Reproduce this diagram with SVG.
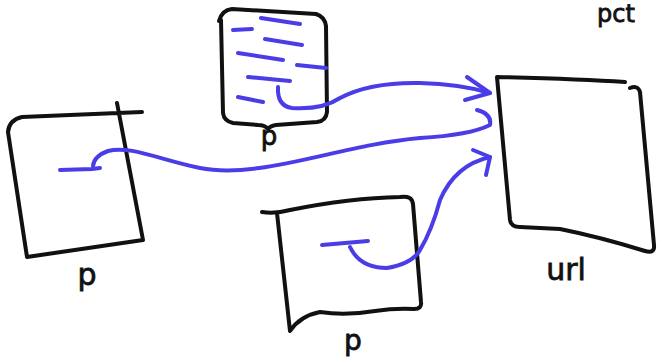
<svg xmlns="http://www.w3.org/2000/svg" width="661" height="364" viewBox="0 0 661 364">
<style>
.ink{fill:none;stroke:#111;stroke-width:4;stroke-linecap:round;stroke-linejoin:round}
.blue{fill:none;stroke:#4a3de8;stroke-width:4;stroke-linecap:round;stroke-linejoin:round}
.lbl{font-family:"DejaVu Sans",sans-serif;fill:#111;stroke:#111;stroke-width:0.8;text-anchor:middle}
</style>
<rect width="661" height="364" fill="#fff"/>
<g id="doc-top">
<path class="ink" d="M219,21 Q222,10 232,9 L316,14 Q325,17 326,26 L327,112 Q326,121 317,122 L276,125 Q270,126 268,129 Q265,125 258,125 L233,123 Q224,121 223,113 L221,20"/>
<path class="blue" d="M261,18 L300,24 M233,30 L252,29 M265,39 L302,45 M238,53 L283,60 M297,65 L326,68 M248,77 L290,81 M238,97 L263,102"/>
<text class="lbl" x="269" y="145" font-size="26">p</text>
</g>
<g id="doc-left">
<path class="ink" d="M142,112 L22,117 Q9,120 8,132 L27,257 L143,240 L117,103"/>
<text class="lbl" x="87" y="285" font-size="30">p</text>
</g>
<g id="doc-bottom">
<path class="ink" d="M262,212 Q275,214 290,210 Q350,198 400,197 Q412,195 413,204 L421,302 Q422,309 414,309 Q395,308 375,311 Q345,316 320,312 Q300,316 290,331 L277,213"/>
<text class="lbl" x="353" y="350" font-size="28">p</text>
</g>
<g id="doc-url">
<path class="ink" d="M625,82 Q580,79 497,77 L510,220 Q511,227 520,227 L560,229 Q600,237 645,251 Q655,254 654,245 L640,92 Q638,85 630,88"/>
<text class="lbl" x="566" y="280" font-size="30">url</text>
</g>
<text class="lbl" x="616" y="22" font-size="24">pct</text>
<g id="connectors">
<path class="blue" d="M278,87 Q277,106 292,108 Q322,110 340,98 Q370,82 420,83 Q460,84 490,93"/>
<path class="blue" d="M467,77 L490,93 L465,100"/>
<path class="blue" d="M477,110 Q492,114 490,125 Q470,135 420,138 C340,145 260,180 200,168 C160,160 130,145 108,151 Q94,156 93,166"/>
<path class="blue" d="M60,170 L92,169 L100,168" stroke-width="6"/>
<path class="blue" d="M322,245 L368,241" stroke-width="7"/>
<path class="blue" d="M350,247 Q360,268 387,268 Q412,264 420,250 Q432,230 440,200 Q455,165 490,157"/>
<path class="blue" d="M473,150 L490,157 L486,175"/>
</g>
</svg>
